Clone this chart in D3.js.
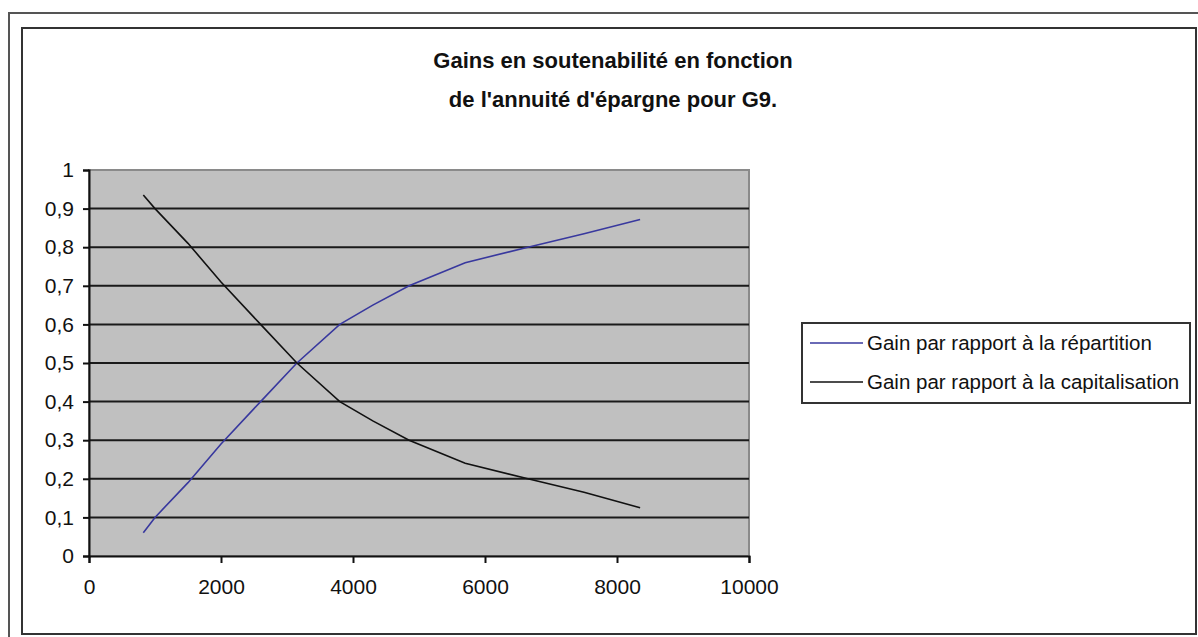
<!DOCTYPE html>
<html>
<head>
<meta charset="utf-8">
<script src="https://cdn.jsdelivr.net/npm/d3@7/dist/d3.min.js"></script>
<style>
  html, body { margin: 0; padding: 0; background: #fff; }
  svg { display: block; font-family: "Liberation Sans", Arial, sans-serif; }
</style>
</head>
<body>
<svg id="chart" width="1198" height="637"></svg>
<script>
// Annuité d'épargne (x) and sustainability gains for G9
const annuite = [823, 1000, 1500, 2000, 2600, 3150, 3800, 4300, 4850, 5700, 6650, 7500, 8350];
const gainRepartition = [0.06, 0.10, 0.19, 0.29, 0.40, 0.50, 0.60, 0.65, 0.70, 0.76, 0.80, 0.835, 0.872];
const gainCapitalisation = [0.935, 0.90, 0.81, 0.71, 0.60, 0.50, 0.40, 0.35, 0.30, 0.24, 0.20, 0.165, 0.125];
const seriesNames = ["Gain par rapport à la répartition", "Gain par rapport à la capitalisation"];
const seriesColors = ["#38389e", "#111111"];
const xTicks = [0, 2000, 4000, 6000, 8000, 10000];
const yTicks = [0, 0.1, 0.2, 0.3, 0.4, 0.5, 0.6, 0.7, 0.8, 0.9, 1];
const titleLines = ["Gains en soutenabilité en fonction", "de l'annuité d'épargne pour G9."];

const svg = d3.select("#chart");

// Double frame around the chart object
svg.append("rect").attr("x", 9).attr("y", 13).attr("width", 1200).attr("height", 640)
  .attr("fill", "none").attr("stroke", "#555").attr("stroke-width", 2);
svg.append("rect").attr("x", 22).attr("y", 28).attr("width", 1174).attr("height", 606)
  .attr("fill", "#fff").attr("stroke", "#333").attr("stroke-width", 2);

const plot = { left: 89, top: 170, right: 749, bottom: 556 };
const x = d3.scaleLinear().domain([0, 10000]).range([plot.left, plot.right]);
const y = d3.scaleLinear().domain([0, 1]).range([plot.bottom, plot.top]);

// Plot area
svg.append("rect")
  .attr("x", plot.left).attr("y", plot.top)
  .attr("width", plot.right - plot.left).attr("height", plot.bottom - plot.top)
  .attr("fill", "#c0c0c0").attr("stroke", "#8a8a8a").attr("stroke-width", 2);

// Horizontal gridlines
svg.append("g").selectAll("line").data(yTicks.filter(d => d > 0 && d < 1)).join("line")
  .attr("x1", plot.left).attr("x2", plot.right)
  .attr("y1", d => y(d)).attr("y2", d => y(d))
  .attr("stroke", "#1a1a1a").attr("stroke-width", 2);

const fmt = d => d3.format("")(+d.toFixed(1)).replace(".", ",");

// Y axis
const yAxis = svg.append("g").attr("transform", `translate(${plot.left},0)`)
  .call(d3.axisLeft(y).tickValues(yTicks).tickFormat(fmt).tickSize(6).tickPadding(9));
yAxis.select(".domain").attr("stroke", "#111").attr("stroke-width", 2);
yAxis.selectAll(".tick line").attr("stroke", "#111").attr("stroke-width", 2);
yAxis.selectAll(".tick text").attr("font-size", 21).attr("fill", "#111")
  .attr("font-family", "Liberation Sans, Arial, sans-serif");

// X axis
const xAxis = svg.append("g").attr("transform", `translate(0,${plot.bottom})`)
  .call(d3.axisBottom(x).tickValues(xTicks).tickFormat(d3.format("d")).tickSize(7).tickPadding(16));
xAxis.select(".domain").attr("stroke", "#111").attr("stroke-width", 2);
xAxis.selectAll(".tick line").attr("stroke", "#111").attr("stroke-width", 2);
xAxis.selectAll(".tick text").attr("font-size", 21).attr("fill", "#111")
  .attr("font-family", "Liberation Sans, Arial, sans-serif");

// Series lines
const line = d3.line().x((d, i) => x(annuite[i])).y(d => y(d));
[gainRepartition, gainCapitalisation].forEach((vals, k) => {
  svg.append("path").datum(vals).attr("d", line)
    .attr("fill", "none").attr("stroke", seriesColors[k]).attr("stroke-width", 1.6);
});

// Title
svg.append("g").selectAll("text").data(titleLines).join("text")
  .attr("x", 613).attr("y", (d, i) => 68 + i * 39)
  .attr("text-anchor", "middle").attr("font-weight", "bold").attr("font-size", 22)
  .attr("fill", "#111").text(d => d);

// Legend
const lg = svg.append("g").attr("transform", "translate(802,323)");
lg.append("rect").attr("width", 388).attr("height", 80)
  .attr("fill", "#fff").attr("stroke", "#333").attr("stroke-width", 2);
const item = lg.selectAll("g").data(seriesNames).join("g")
  .attr("transform", (d, i) => `translate(0,${20 + i * 39})`);
item.append("line").attr("x1", 8).attr("x2", 61).attr("y1", 0).attr("y2", 0)
  .attr("stroke", (d, i) => seriesColors[i]).attr("stroke-width", 1.6);
item.append("text").attr("x", 65).attr("y", 7).attr("font-size", 20.5).attr("fill", "#111")
  .text(d => d);
</script>
</body>
</html>
